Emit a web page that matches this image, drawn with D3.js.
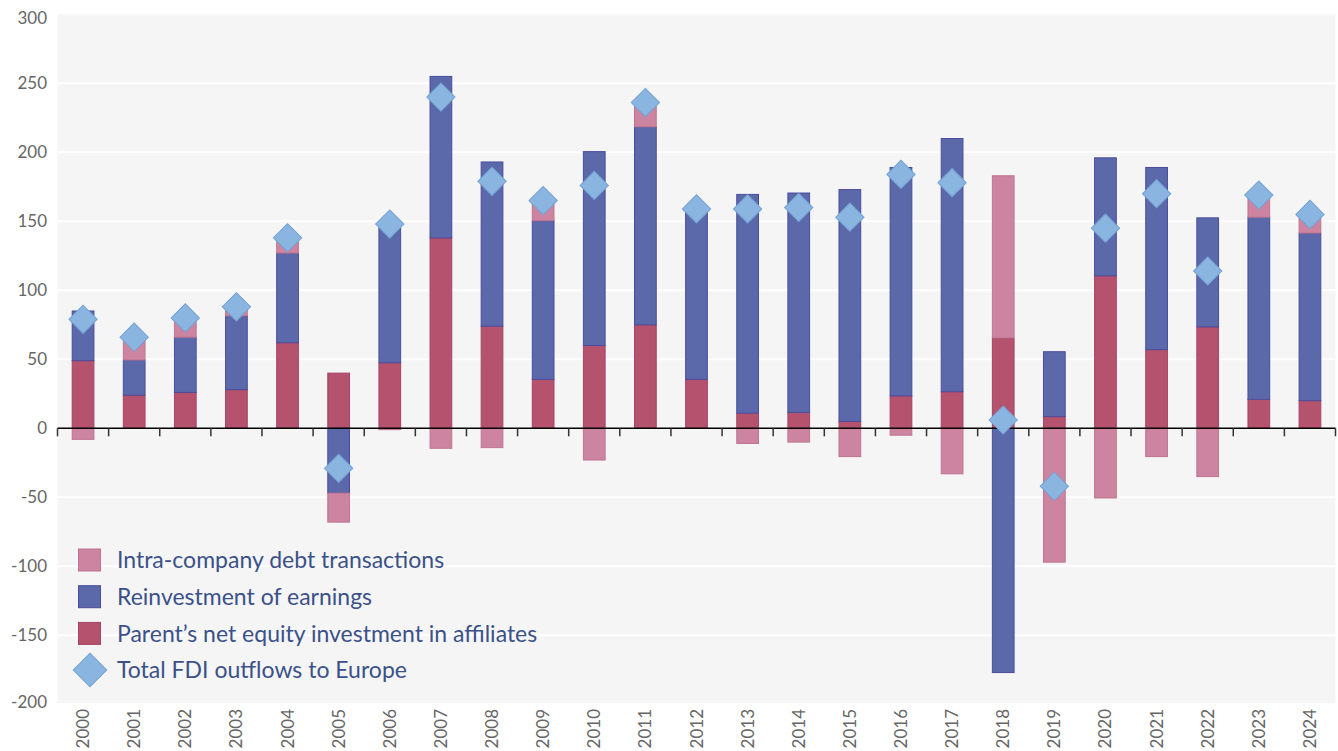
<!DOCTYPE html>
<html lang="en">
<head>
  <meta charset="UTF-8">
  <title>FDI outflows to Europe</title>
  <style>
    html, body { margin: 0; padding: 0; background: #ffffff; }
    svg { display: block; font-family: Lato, "Open Sans", sans-serif; }
    .ylab text { fill: #666666; font-size: 17px; }
    .xlab text { fill: #666666; font-size: 17px; }
    .legend text { fill: #3b5189; font-size: 23px; }
  </style>
</head>
<body>
<div id="chart"></div>
<script src="https://d3js.org/d3.v7.min.js"></script>
<script>
  // values (billions)
  const years = ['2000','2001','2002','2003','2004','2005','2006','2007','2008','2009','2010','2011','2012',
                 '2013','2014','2015','2016','2017','2018','2019','2020','2021','2022','2023','2024'];
  const equity = [49, 24, 26, 28, 62, 40, 47.5, 138, 74, 35.5, 60, 75, 35.5,
                  11, 11.5, 5, 23.5, 26.5, 65.5, 8.5, 110.5, 57, 73.5, 21, 20];
  const reinvest = [36, 25.5, 40, 53.5, 65, -47, 98.5, 117, 119, 115, 140.5, 143.5, 123,
                    158.5, 159, 168, 165.5, 183.5, -177, 47, 85.5, 132, 79, 132, 121.5];
  const debt = [-8, 16.5, 14, 6.5, 11, -21, -1, -14.5, -14, 15, -23, 18, 1,
                -11, -10, -20.5, -5, -33, 117.5, -97, -50.5, -20.5, -35, 16, 14];
  const total = [79, 66, 80, 88, 138, -29, 148, 240, 179, 165, 176, 236, 159,
                 159, 160, 153, 184, 178, 6, -42, 145, 170, 114, 169, 155];
  const yTicks = [-200, -150, -100, -50, 0, 50, 100, 150, 200, 250, 300];

  const W = 1338, H = 751;
  const mLeft = 57.5, mRight = 1335.5, mTop = 14.3, mBottom = 704.3;

  const series = [
    { key: 'equity', label: 'Parent\u2019s net equity investment in affiliates', fill: '#b5526e', stroke: '#a5446a' },
    { key: 'reinvest', label: 'Reinvestment of earnings', fill: '#5b69ab', stroke: '#4a4d9c' },
    { key: 'debt', label: 'Intra-company debt transactions', fill: '#cc84a0', stroke: '#bf7590' }
  ];

  const rows = years.map((yr, i) => ({ year: yr, equity: equity[i], reinvest: reinvest[i], debt: debt[i], total: total[i] }));

  const x = d3.scaleBand().domain(years).range([mLeft, mRight]).paddingInner(0.575).paddingOuter(0.2875);
  const xEdge = d3.scaleBand().domain(years).range([mLeft, mRight]);
  const y = d3.scaleLinear().domain([-200, 300]).range([mBottom, mTop]);

  const svg = d3.select('#chart').append('svg').attr('width', W).attr('height', H);

  // plot background
  svg.append('rect')
    .attr('x', mLeft).attr('y', y(300))
    .attr('width', mRight - mLeft).attr('height', 703 - y(300))
    .attr('fill', '#f5f5f5');

  // gridlines
  svg.append('g').selectAll('line')
    .data(yTicks.filter(d => d !== 0 && d !== -200 && d !== 300))
    .join('line')
    .attr('x1', mLeft).attr('x2', mRight)
    .attr('y1', d => y(d)).attr('y2', d => y(d))
    .attr('stroke', '#ffffff').attr('stroke-width', 2);

  // y labels (end labels nudged inward like the original)
  svg.append('g').attr('class', 'ylab')
    .attr('transform', 'translate(47,0)')
    .selectAll('text').data(yTicks).join('text')
    .attr('y', d => y(d) + (d === 300 ? 4 : d === -200 ? -2.5 : 0)).attr('dy', '0.36em')
    .attr('text-anchor', 'end')
    .text(d => d);

  // stacked bars
  const stack = d3.stack().keys(series.map(s => s.key)).offset(d3.stackOffsetDiverging);
  const layers = stack(rows);

  svg.append('g').selectAll('g')
    .data(layers).join('g')
    .attr('fill', (d, i) => series[i].fill)
    .attr('stroke', (d, i) => series[i].stroke)
    .attr('stroke-width', 1)
    .selectAll('rect')
    .data(d => d).join('rect')
    .attr('x', d => x(d.data.year))
    .attr('width', x.bandwidth())
    .attr('y', d => y(Math.max(d[0], d[1])))
    .attr('height', d => Math.abs(y(d[0]) - y(d[1])));

  // zero axis with ticks
  const axis = svg.append('g');
  axis.append('line')
    .attr('x1', mLeft).attr('x2', mRight)
    .attr('y1', y(0)).attr('y2', y(0))
    .attr('stroke', '#000').attr('stroke-width', 1.5);
  axis.selectAll('.tk')
    .data(years.concat(['end']))
    .join('line')
    .attr('x1', d => d === 'end' ? mRight : xEdge(d))
    .attr('x2', d => d === 'end' ? mRight : xEdge(d))
    .attr('y1', y(0)).attr('y2', y(0) + 8)
    .attr('stroke', '#333').attr('stroke-width', 1.5);

  // total diamonds
  const diamond = d3.symbol().type(d3.symbolSquare).size(400);
  svg.append('g').selectAll('path')
    .data(rows).join('path')
    .attr('d', diamond)
    .attr('transform', d => 'translate(' + (x(d.year) + x.bandwidth() / 2) + ',' + y(d.total) + ') rotate(45)')
    .attr('fill', '#8ab5e0')
    .attr('stroke', '#74a2d3')
    .attr('stroke-width', 1);

  // x labels
  svg.append('g').attr('class', 'xlab')
    .selectAll('text').data(years).join('text')
    .attr('transform', d => 'translate(' + (x(d) + x.bandwidth() / 2 + 6) + ',709) rotate(-90)')
    .attr('text-anchor', 'end')
    .text(d => d);

  // legend
  const legendItems = [series[2], series[1], series[0]];
  const lg = svg.append('g').attr('class', 'legend');
  legendItems.forEach((s, i) => {
    const cy = 560 + i * 36.7;
    lg.append('rect')
      .attr('x', 78.5).attr('y', cy - 11)
      .attr('width', 22).attr('height', 22)
      .attr('fill', s.fill).attr('stroke', s.stroke).attr('stroke-width', 1);
    lg.append('text').attr('x', 117).attr('y', cy).attr('dy', '0.36em').text(s.label);
  });
  lg.append('path')
    .attr('d', d3.symbol().type(d3.symbolSquare).size(560))
    .attr('transform', 'translate(90,670) rotate(45)')
    .attr('fill', '#8ab5e0').attr('stroke', '#74a2d3').attr('stroke-width', 1);
  lg.append('text').attr('x', 117).attr('y', 670).attr('dy', '0.36em').text('Total FDI outflows to Europe');
</script>
</body>
</html>
